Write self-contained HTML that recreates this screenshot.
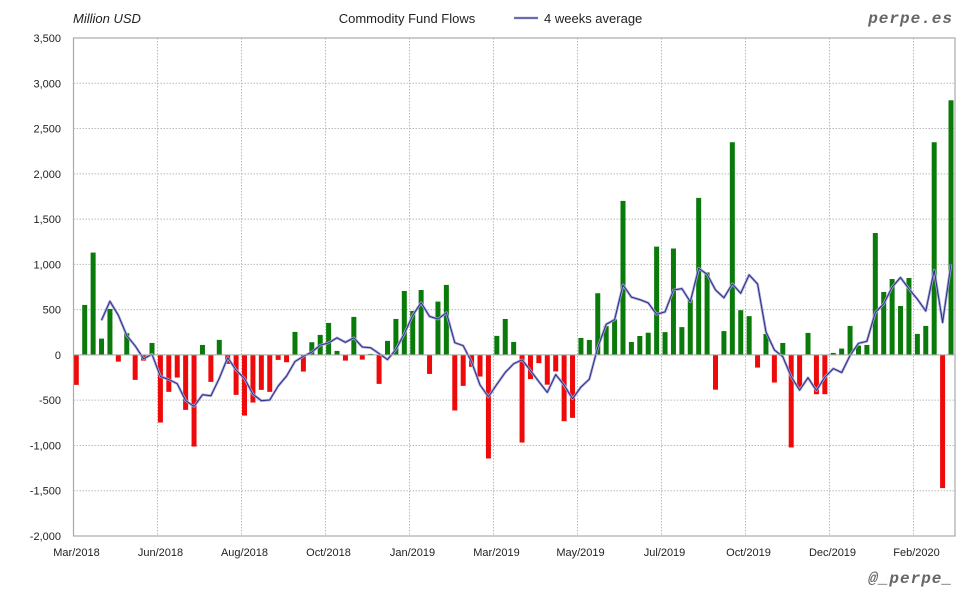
<!DOCTYPE html>
<html><head><meta charset="utf-8"><style>
html,body{margin:0;padding:0;background:#fff;}
svg{display:block;font-family:"Liberation Sans",sans-serif;}
</style></head><body>
<svg id="s" width="980" height="600" viewBox="0 0 980 600" xmlns="http://www.w3.org/2000/svg">
<rect width="980" height="600" fill="#fff"/>
<text x="73" y="23" font-size="13" font-style="italic" fill="#222">Million USD</text>
<text x="407" y="23" font-size="13" fill="#222" text-anchor="middle">Commodity Fund Flows</text>
<line x1="514" y1="18" x2="538" y2="18" stroke="#a8a8d8" stroke-width="2.6"/>
<line x1="514" y1="18" x2="538" y2="18" stroke="#2e2e88" stroke-width="1"/>
<text x="544" y="23" font-size="13" fill="#222">4 weeks average</text>
<text x="953" y="23" font-size="16" font-weight="bold" font-style="italic" fill="#666" text-anchor="end" font-family="Liberation Mono, monospace" letter-spacing="1">perpe.es</text>
<text x="953" y="583" font-size="16" font-weight="bold" font-style="italic" fill="#666" text-anchor="end" font-family="Liberation Mono, monospace" letter-spacing="1">@_perpe_</text>
<g id="g"></g>
</svg>
<script>
(function(){
var v=[-331,552,1130,180,508,-74,240,-276,-63,132,-747,-408,-250,-607,-1012,110,-298,166,-99,-441,-670,-526,-386,-408,-55,-81,254,-184,140,221,353,44,-63,420,-52,11,-320,155,397,706,486,717,-210,589,773,-614,-342,-132,-239,-1144,210,397,143,-968,-267,-91,-329,-183,-732,-695,187,165,681,318,392,1701,143,209,245,1196,252,1175,307,611,1734,911,-384,263,2349,494,428,-140,232,-305,132,-1022,-360,243,-434,-434,22,70,320,103,110,1346,695,838,540,849,232,320,2349,-1471,2812];
var L=73.5,R=955,T=38,B=536;
function y(val){return T+(3500-val)*(B-T)/5500;}
var h='';
for(var k=0;k<=11;k++){var val=3500-k*500,yy=y(val);
 h+='<line x1="'+L+'" x2="'+R+'" y1="'+yy+'" y2="'+yy+'" stroke="#bbb" stroke-dasharray="1.5,1.5"/>';
 h+='<text x="61" y="'+(yy+4)+'" font-size="11" fill="#222" text-anchor="end">'+(val<0?'-':'')+Math.abs(val).toLocaleString('en-US')+'</text>';}
var lab=['Mar/2018','Jun/2018','Aug/2018','Oct/2018','Jan/2019','Mar/2019','May/2019','Jul/2019','Oct/2019','Dec/2019','Feb/2020'];
for(var k=0;k<11;k++){var xx=L+84*k;
 if(k>0)h+='<line x1="'+xx+'" x2="'+xx+'" y1="'+T+'" y2="'+B+'" stroke="#bbb" stroke-dasharray="1.5,1.5"/>';
 h+='<text x="'+(xx+3)+'" y="'+(B+20)+'" font-size="11" fill="#222" text-anchor="middle">'+lab[k]+'</text>';}
var z=y(0),sp=(951-76.3)/104;
for(var i=0;i<v.length;i++){var cx=76.3+i*sp,yt=y(v[i]);
 var ry=Math.min(yt,z),ht=Math.abs(yt-z);
 h+='<rect x="'+(cx-2.5)+'" y="'+ry+'" width="5" height="'+ht+'" fill="'+(v[i]>=0?'#0a7a0a':'#ee0a0a')+'"/>';}
var p='';
for(var i=3;i<v.length;i++){var a=(v[i]+v[i-1]+v[i-2]+v[i-3])/4;p+=(i==3?'M':'L')+(76.3+i*sp).toFixed(1)+','+y(a).toFixed(1);}
h+='<path d="'+p+'" fill="none" stroke="#a8a8d8" stroke-width="2.6" stroke-linejoin="round"/>';
h+='<path d="'+p+'" fill="none" stroke="#2e2e88" stroke-width="1" stroke-linejoin="round"/>';
h+='<line x1="'+L+'" x2="'+R+'" y1="'+z+'" y2="'+z+'" stroke="#aaa" stroke-width="1"/>';
h+='<rect x="'+L+'" y="'+T+'" width="'+(R-L)+'" height="'+(B-T)+'" fill="none" stroke="#aaa" stroke-width="1.2"/>';
document.getElementById('g').innerHTML=h;
})();
</script>
</body></html>
